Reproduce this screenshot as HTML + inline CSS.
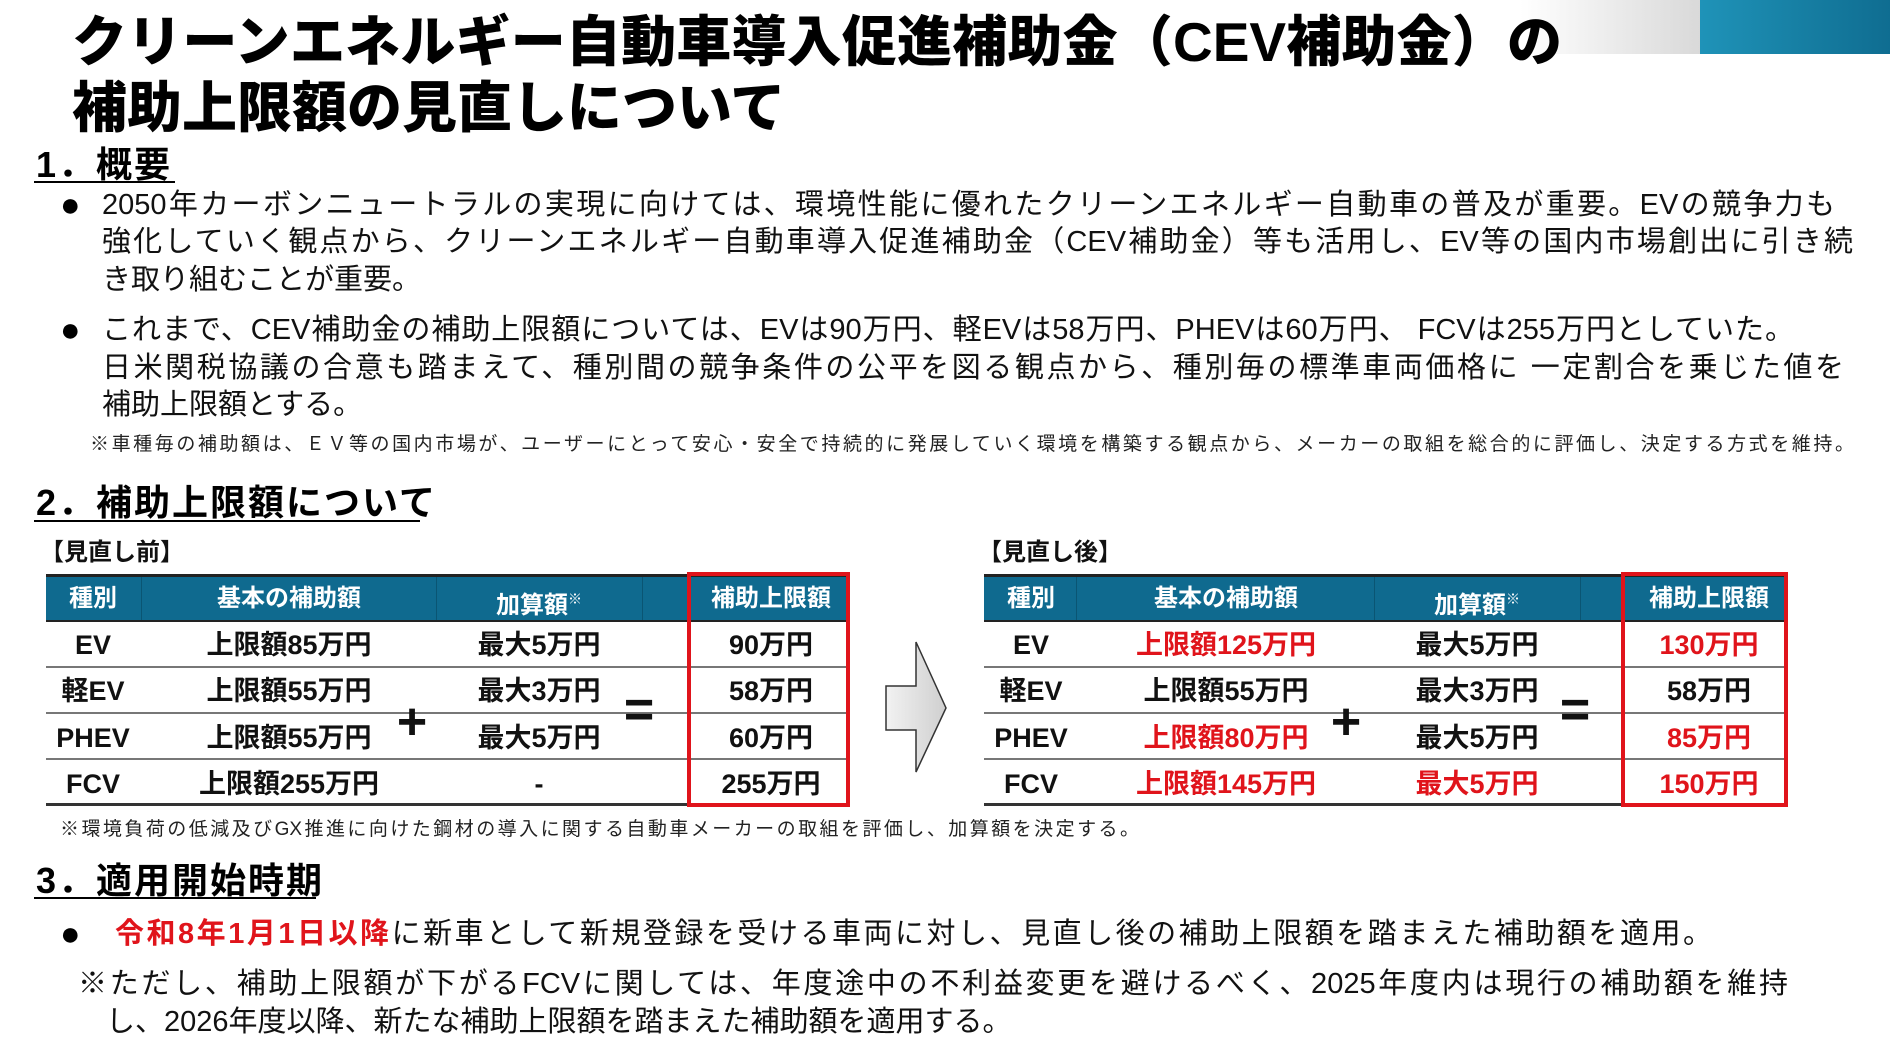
<!DOCTYPE html>
<html><head><meta charset="utf-8"><style>
*{margin:0;padding:0;box-sizing:border-box}
body{width:1890px;height:1058px;background:#fff;position:relative;overflow:hidden;font-family:"Liberation Sans","Noto Sans CJK JP",sans-serif;color:#111}
.a{position:absolute;white-space:nowrap}
.j{text-align:justify;text-align-last:justify}
.t{font-weight:900;font-size:55px;line-height:64px;color:#000}
.h{font-weight:700;font-size:36px;line-height:40px;color:#000;letter-spacing:2px}
.u{position:absolute;height:2px;background:#000}
.b{font-size:29px;line-height:38px;color:#111}
.d{font-size:34px;line-height:38px;color:#000}
.n{font-size:19px;line-height:24px;color:#222}
.cell{position:absolute;font-weight:700;font-size:27px;line-height:36px;text-align:center;transform:translateX(-50%);white-space:nowrap}
.hd{position:absolute;font-weight:700;font-size:24px;line-height:30px;color:#fff;text-align:center;transform:translateX(-50%);white-space:nowrap}
.r{color:#e0141b}
.hl{position:absolute;height:2px;background:#777}
</style></head><body>
<div style="position:absolute;left:1520px;top:0;width:180px;height:54px;background:linear-gradient(90deg,#fff,#d9d9d9)"></div>
<div style="position:absolute;left:1700px;top:0;width:190px;height:54px;background:linear-gradient(90deg,#1f93b8,#0f6d91)"></div>

<div class="a t j" style="left:72px;top:10px;width:1490px">クリーンエネルギー自動車導入促進補助金（CEV補助金）の</div>
<div class="a t" style="left:72px;top:76px">補助上限額の見直しについて</div>

<div class="a h" style="left:36px;top:145px">1．概要</div>
<div class="u" style="left:34px;top:181px;width:141px"></div>

<div class="a d" style="left:60px;top:186px">●</div>
<div class="a b j" style="left:102px;top:186px;width:1733px">2050年カーボンニュートラルの実現に向けては、環境性能に優れたクリーンエネルギー自動車の普及が重要。EVの競争力も</div>
<div class="a b j" style="left:102px;top:223px;width:1751px">強化していく観点から、クリーンエネルギー自動車導入促進補助金（CEV補助金）等も活用し、EV等の国内市場創出に引き続</div>
<div class="a b" style="left:102px;top:261px">き取り組むことが重要。</div>

<div class="a d" style="left:60px;top:311px">●</div>
<div class="a b j" style="left:102px;top:311px;width:1692px">これまで、CEV補助金の補助上限額については、EVは90万円、軽EVは58万円、PHEVは60万円、 FCVは255万円としていた。</div>
<div class="a b j" style="left:102px;top:349px;width:1742px">日米関税協議の合意も踏まえて、種別間の競争条件の公平を図る観点から、種別毎の標準車両価格に 一定割合を乗じた値を</div>
<div class="a b" style="left:102px;top:386px">補助上限額とする。</div>
<div class="a n j" style="left:90px;top:433px;width:1764px">※車種毎の補助額は、ＥＶ等の国内市場が、ユーザーにとって安心・安全で持続的に発展していく環境を構築する観点から、メーカーの取組を総合的に評価し、決定する方式を維持。</div>

<div class="a h" style="left:36px;top:483px">2．補助上限額について</div>
<div class="u" style="left:34px;top:520px;width:386px"></div>

<div class="a" style="left:40px;top:538px;font-size:24px;line-height:30px;font-weight:700">【見直し前】</div>
<div class="a" style="left:978px;top:538px;font-size:24px;line-height:30px;font-weight:700">【見直し後】</div>

<!-- left table -->
<div style="position:absolute;left:46px;top:574px;width:802px;height:3px;background:#222"></div>
<div style="position:absolute;left:46px;top:577px;width:802px;height:43px;background:#0f6a8f"></div>
<div style="position:absolute;left:46px;top:620px;width:802px;height:2px;background:#222"></div>
<div style="position:absolute;left:141px;top:577px;width:1px;height:43px;background:#0a5573"></div>
<div style="position:absolute;left:436px;top:577px;width:1px;height:43px;background:#0a5573"></div>
<div style="position:absolute;left:642px;top:577px;width:1px;height:43px;background:#0a5573"></div>
<div class="hl" style="left:46px;top:666px;width:802px"></div>
<div class="hl" style="left:46px;top:712px;width:802px"></div>
<div class="hl" style="left:46px;top:758px;width:802px"></div>
<div style="position:absolute;left:46px;top:803px;width:802px;height:3px;background:#333"></div>
<div class="hd" style="left:93px;top:584px">種別</div>
<div class="hd" style="left:289px;top:584px">基本の補助額</div>
<div class="hd" style="left:539px;top:584px">加算額<sup style="font-size:14px">※</sup></div>
<div class="hd" style="left:771px;top:584px">補助上限額</div>
<div class="cell" style="left:93px;top:627px">EV</div>
<div class="cell" style="left:289px;top:627px">上限額85万円</div>
<div class="cell" style="left:539px;top:627px">最大5万円</div>
<div class="cell" style="left:771px;top:627px">90万円</div>
<div class="cell" style="left:93px;top:673px">軽EV</div>
<div class="cell" style="left:289px;top:673px">上限額55万円</div>
<div class="cell" style="left:539px;top:673px">最大3万円</div>
<div class="cell" style="left:771px;top:673px">58万円</div>
<div class="cell" style="left:93px;top:720px">PHEV</div>
<div class="cell" style="left:289px;top:720px">上限額55万円</div>
<div class="cell" style="left:539px;top:720px">最大5万円</div>
<div class="cell" style="left:771px;top:720px">60万円</div>
<div class="cell" style="left:93px;top:766px">FCV</div>
<div class="cell" style="left:289px;top:766px">上限額255万円</div>
<div class="cell" style="left:539px;top:766px">-</div>
<div class="cell" style="left:771px;top:766px">255万円</div>
<div style="position:absolute;left:687px;top:572px;width:163px;height:235px;border:4px solid #e0141b"></div>
<div class="cell" style="left:412px;top:698px;font-size:52px;line-height:48px;font-weight:900">+</div>
<div class="cell" style="left:639px;top:686px;font-size:52px;line-height:48px;font-weight:900">=</div>

<!-- arrow -->
<svg style="position:absolute;left:880px;top:636px" width="72" height="142"><defs><linearGradient id="g" x1="0" x2="1"><stop offset="0" stop-color="#f2f2f2"/><stop offset="1" stop-color="#cfcfcf"/></linearGradient></defs><polygon points="6,50 36,50 36,6 66,72 36,136 36,94 6,94" fill="url(#g)" stroke="#333" stroke-width="1.5"/></svg>

<!-- right table -->
<div style="position:absolute;left:984px;top:574px;width:802px;height:3px;background:#222"></div>
<div style="position:absolute;left:984px;top:577px;width:802px;height:43px;background:#0f6a8f"></div>
<div style="position:absolute;left:984px;top:620px;width:802px;height:2px;background:#222"></div>
<div style="position:absolute;left:1076px;top:577px;width:1px;height:43px;background:#0a5573"></div>
<div style="position:absolute;left:1374px;top:577px;width:1px;height:43px;background:#0a5573"></div>
<div style="position:absolute;left:1580px;top:577px;width:1px;height:43px;background:#0a5573"></div>
<div class="hl" style="left:984px;top:666px;width:802px"></div>
<div class="hl" style="left:984px;top:712px;width:802px"></div>
<div class="hl" style="left:984px;top:758px;width:802px"></div>
<div style="position:absolute;left:984px;top:803px;width:802px;height:3px;background:#333"></div>
<div class="hd" style="left:1031px;top:584px">種別</div>
<div class="hd" style="left:1226px;top:584px">基本の補助額</div>
<div class="hd" style="left:1477px;top:584px">加算額<sup style="font-size:14px">※</sup></div>
<div class="hd" style="left:1709px;top:584px">補助上限額</div>
<div class="cell" style="left:1031px;top:627px">EV</div>
<div class="cell r" style="left:1226px;top:627px">上限額125万円</div>
<div class="cell" style="left:1477px;top:627px">最大5万円</div>
<div class="cell r" style="left:1709px;top:627px">130万円</div>
<div class="cell" style="left:1031px;top:673px">軽EV</div>
<div class="cell" style="left:1226px;top:673px">上限額55万円</div>
<div class="cell" style="left:1477px;top:673px">最大3万円</div>
<div class="cell" style="left:1709px;top:673px">58万円</div>
<div class="cell" style="left:1031px;top:720px">PHEV</div>
<div class="cell r" style="left:1226px;top:720px">上限額80万円</div>
<div class="cell" style="left:1477px;top:720px">最大5万円</div>
<div class="cell r" style="left:1709px;top:720px">85万円</div>
<div class="cell" style="left:1031px;top:766px">FCV</div>
<div class="cell r" style="left:1226px;top:766px">上限額145万円</div>
<div class="cell r" style="left:1477px;top:766px">最大5万円</div>
<div class="cell r" style="left:1709px;top:766px">150万円</div>
<div style="position:absolute;left:1621px;top:572px;width:167px;height:235px;border:4px solid #e0141b"></div>
<div class="cell" style="left:1346px;top:698px;font-size:52px;line-height:48px;font-weight:900">+</div>
<div class="cell" style="left:1575px;top:686px;font-size:52px;line-height:48px;font-weight:900">=</div>

<div class="a n j" style="left:60px;top:818px;width:1079px;font-size:19px">※環境負荷の低減及びGX推進に向けた鋼材の導入に関する自動車メーカーの取組を評価し、加算額を決定する。</div>

<div class="a h" style="left:36px;top:861px">3．適用開始時期</div>
<div class="u" style="left:34px;top:897px;width:282px"></div>

<div class="a d" style="left:60px;top:915px">●</div>
<div class="a b j" style="left:115px;top:915px;width:1597px"><span class="r" style="font-weight:700">令和8年1月1日以降</span>に新車として新規登録を受ける車両に対し、見直し後の補助上限額を踏まえた補助額を適用。</div>
<div class="a b j" style="left:78px;top:965px;width:1710px">※ただし、補助上限額が下がるFCVに関しては、年度途中の不利益変更を避けるべく、2025年度内は現行の補助額を維持</div>
<div class="a b" style="left:106px;top:1003px">し、2026年度以降、新たな補助上限額を踏まえた補助額を適用する。</div>
</body></html>
